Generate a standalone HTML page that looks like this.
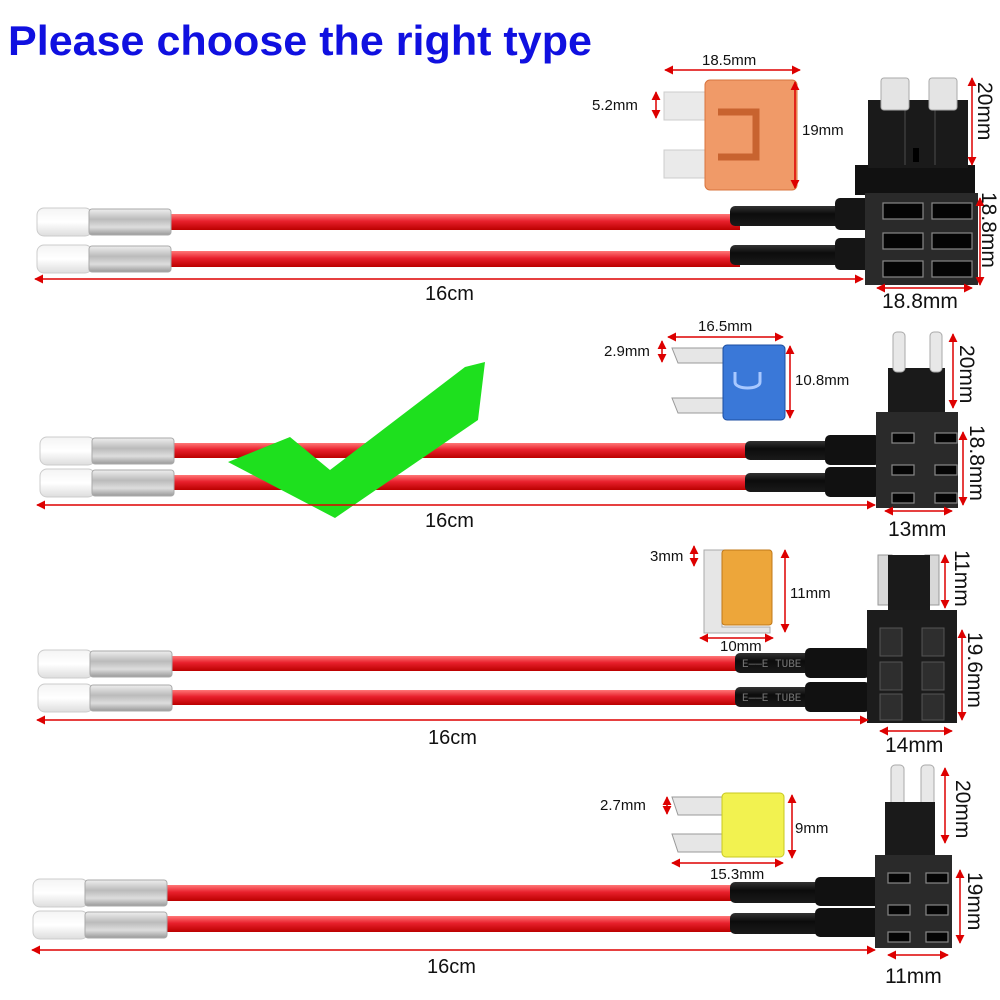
<!DOCTYPE html>
<html><head><meta charset="utf-8"><style>
html,body{margin:0;padding:0;background:#fff;width:1000px;height:1000px;overflow:hidden}
svg{display:block}
.t{font-family:"Liberation Sans",sans-serif;fill:#111}
</style></head><body>
<svg width="1000" height="1000" viewBox="0 0 1000 1000" xmlns="http://www.w3.org/2000/svg">
<defs>
<marker id="a" viewBox="0 0 10 10" refX="9" refY="5" markerWidth="6" markerHeight="6" orient="auto-start-reverse"><path d="M0,0L10,5L0,10z" fill="#d00"/></marker>
<linearGradient id="w" x1="0" y1="0" x2="0" y2="1"><stop offset="0" stop-color="#f77"/><stop offset=".45" stop-color="#e8202c"/><stop offset="1" stop-color="#b00"/></linearGradient>
<linearGradient id="m" x1="0" y1="0" x2="0" y2="1"><stop offset="0" stop-color="#eee"/><stop offset=".4" stop-color="#bbb"/><stop offset=".7" stop-color="#ddd"/><stop offset="1" stop-color="#999"/></linearGradient>
<linearGradient id="c" x1="0" y1="0" x2="0" y2="1"><stop offset="0" stop-color="#f4f4f4"/><stop offset=".5" stop-color="#fff"/><stop offset="1" stop-color="#ddd"/></linearGradient>
<linearGradient id="k" x1="0" y1="0" x2="0" y2="1"><stop offset="0" stop-color="#333"/><stop offset=".4" stop-color="#0c0c0c"/><stop offset="1" stop-color="#1a1a1a"/></linearGradient>
<g id="term"><rect x="0" y="0" width="55" height="28" rx="7" fill="url(#c)" stroke="#ccc"/><rect x="52" y="1" width="82" height="26" rx="3" fill="url(#m)" stroke="#aaa"/></g>
</defs>
<text x="8" y="55" font-family="Liberation Sans,sans-serif" font-weight="bold" font-size="42" fill="#1010e0" textLength="584" lengthAdjust="spacingAndGlyphs">Please choose the right type</text>

<!-- Section 1 -->
<g>
<rect x="165" y="214" width="575" height="16" fill="url(#w)"/>
<rect x="165" y="251" width="575" height="16" fill="url(#w)"/>
<use href="#term" x="37" y="208"/><use href="#term" x="37" y="245"/>
<rect x="730" y="206" width="110" height="20" rx="5" fill="url(#k)"/>
<rect x="730" y="245" width="110" height="20" rx="5" fill="url(#k)"/>
<rect x="835" y="198" width="40" height="32" rx="5" fill="#151515"/>
<rect x="835" y="238" width="40" height="32" rx="5" fill="#151515"/>
<rect x="855" y="165" width="120" height="30" fill="#111"/>
<rect x="865" y="193" width="113" height="92" fill="#2a2a2a"/>
<rect x="868" y="100" width="100" height="68" fill="#1a1a1a"/>
<line x1="905" y1="105" x2="905" y2="165" stroke="#333" stroke-width="2"/><line x1="935" y1="105" x2="935" y2="165" stroke="#333" stroke-width="2"/>
<rect x="913" y="148" width="6" height="14" fill="#000"/>
<rect x="881" y="78" width="28" height="32" rx="3" fill="#e4e4e4" stroke="#aaa"/><rect x="929" y="78" width="28" height="32" rx="3" fill="#e4e4e4" stroke="#aaa"/>
<g fill="#050505" stroke="#888" stroke-width="1.2"><rect x="883" y="203" width="40" height="16"/><rect x="932" y="203" width="40" height="16"/><rect x="883" y="233" width="40" height="16"/><rect x="932" y="233" width="40" height="16"/><rect x="883" y="261" width="40" height="16"/><rect x="932" y="261" width="40" height="16"/></g>
<rect x="664" y="92" width="46" height="28" fill="#eaeaea" stroke="#ccc"/><rect x="664" y="150" width="46" height="28" fill="#eaeaea" stroke="#ccc"/>
<rect x="705" y="80" width="92" height="110" rx="5" fill="#f09a68" stroke="#d8743e"/>
<path d="M718,112h38v45h-38" fill="none" stroke="#c8632f" stroke-width="7"/>
</g>
<g stroke="#d00" stroke-width="1.5" fill="none">
<line x1="665" y1="70" x2="800" y2="70" marker-start="url(#a)" marker-end="url(#a)"/>
<line x1="656" y1="92" x2="656" y2="118" marker-start="url(#a)" marker-end="url(#a)"/>
<line x1="795" y1="82" x2="795" y2="188" marker-start="url(#a)" marker-end="url(#a)"/>
<line x1="972" y1="78" x2="972" y2="165" marker-start="url(#a)" marker-end="url(#a)"/>
<line x1="980" y1="198" x2="980" y2="285" marker-start="url(#a)" marker-end="url(#a)"/>
<line x1="877" y1="288" x2="972" y2="288" marker-start="url(#a)" marker-end="url(#a)"/>
<line x1="35" y1="279" x2="863" y2="279" marker-start="url(#a)" marker-end="url(#a)"/>
</g>
<g class="t" font-size="15">
<text x="702" y="65">18.5mm</text><text x="592" y="110">5.2mm</text><text x="802" y="135">19mm</text>
<text x="882" y="308" font-size="21">18.8mm</text><text x="425" y="300" font-size="20">16cm</text>
<text transform="translate(978,82) rotate(90)" font-size="21">20mm</text>
<text transform="translate(982,192) rotate(90)" font-size="21">18.8mm</text>
</g>

<!-- Section 2 -->
<g>
<rect x="168" y="443" width="580" height="15" fill="url(#w)"/>
<rect x="168" y="475" width="580" height="15" fill="url(#w)"/>
<use href="#term" x="40" y="437"/><use href="#term" x="40" y="469"/>
<rect x="745" y="441" width="90" height="19" rx="5" fill="url(#k)"/>
<rect x="745" y="473" width="90" height="19" rx="5" fill="url(#k)"/>
<rect x="825" y="435" width="55" height="30" rx="5" fill="#111"/>
<rect x="825" y="467" width="55" height="30" rx="5" fill="#111"/>
<rect x="888" y="368" width="57" height="50" fill="#1a1a1a"/>
<rect x="893" y="332" width="12" height="40" rx="4" fill="#e8e8e8" stroke="#aaa"/><rect x="930" y="332" width="12" height="40" rx="4" fill="#e8e8e8" stroke="#aaa"/>
<rect x="876" y="412" width="82" height="96" fill="#2a2a2a"/>
<g fill="#050505" stroke="#888" stroke-width="1.2"><rect x="892" y="433" width="22" height="10"/><rect x="935" y="433" width="22" height="10"/><rect x="892" y="465" width="22" height="10"/><rect x="935" y="465" width="22" height="10"/><rect x="892" y="493" width="22" height="10"/><rect x="935" y="493" width="22" height="10"/></g>
<path d="M672,348h52v15h-46z M672,398h52v15h-46z" fill="#e6e6e6" stroke="#999"/>
<rect x="723" y="345" width="62" height="75" rx="4" fill="#3a78d8" stroke="#1c4ea0"/>
<path d="M735,372v10c0,8 25,8 25,0v-10" fill="none" stroke="#a8c8ff" stroke-width="3"/>
</g>
<polygon points="228,462 290,437 330,470 465,367 485,362 478,420 335,518" fill="#1ee01e"/>
<g stroke="#d00" stroke-width="1.5" fill="none">
<line x1="668" y1="337" x2="783" y2="337" marker-start="url(#a)" marker-end="url(#a)"/>
<line x1="662" y1="341" x2="662" y2="362" marker-start="url(#a)" marker-end="url(#a)"/>
<line x1="790" y1="346" x2="790" y2="418" marker-start="url(#a)" marker-end="url(#a)"/>
<line x1="953" y1="334" x2="953" y2="408" marker-start="url(#a)" marker-end="url(#a)"/>
<line x1="963" y1="432" x2="963" y2="505" marker-start="url(#a)" marker-end="url(#a)"/>
<line x1="885" y1="511" x2="952" y2="511" marker-start="url(#a)" marker-end="url(#a)"/>
<line x1="37" y1="505" x2="875" y2="505" marker-start="url(#a)" marker-end="url(#a)"/>
</g>
<g class="t" font-size="15">
<text x="698" y="331">16.5mm</text><text x="604" y="356">2.9mm</text><text x="795" y="385">10.8mm</text>
<text x="888" y="536" font-size="21">13mm</text><text x="425" y="527" font-size="20">16cm</text>
<text transform="translate(960,345) rotate(90)" font-size="21">20mm</text>
<text transform="translate(970,425) rotate(90)" font-size="21">18.8mm</text>
</g>

<!-- Section 3 -->
<g>
<rect x="163" y="656" width="580" height="15" fill="url(#w)"/>
<rect x="163" y="690" width="580" height="15" fill="url(#w)"/>
<use href="#term" x="38" y="650"/><use href="#term" x="38" y="684"/>
<rect x="735" y="653" width="80" height="20" rx="5" fill="url(#k)"/>
<rect x="735" y="687" width="80" height="20" rx="5" fill="url(#k)"/>
<rect x="805" y="648" width="65" height="30" rx="5" fill="#111"/>
<rect x="805" y="682" width="65" height="30" rx="5" fill="#111"/>
<g font-family="Liberation Mono,monospace" font-size="11" fill="#777"><text x="742" y="667">E——E  TUBE</text><text x="742" y="701">E——E  TUBE</text></g>
<rect x="878" y="555" width="14" height="50" fill="#d8d8d8" stroke="#999"/><rect x="925" y="555" width="14" height="50" fill="#d8d8d8" stroke="#999"/>
<rect x="888" y="555" width="42" height="58" fill="#1a1a1a"/>
<rect x="867" y="610" width="90" height="113" fill="#1c1c1c"/>
<g fill="#2e2e2e" stroke="#555"><rect x="880" y="628" width="22" height="28"/><rect x="922" y="628" width="22" height="28"/><rect x="880" y="662" width="22" height="28"/><rect x="922" y="662" width="22" height="28"/><rect x="880" y="694" width="22" height="26"/><rect x="922" y="694" width="22" height="26"/></g>
<path d="M704,550h66v22h-48v55h48v6h-66z" fill="#e6e6e6" stroke="#aaa"/>
<rect x="722" y="550" width="50" height="75" rx="3" fill="#eda63a" stroke="#c07818"/>
</g>
<g stroke="#d00" stroke-width="1.5" fill="none">
<line x1="694" y1="546" x2="694" y2="566" marker-start="url(#a)" marker-end="url(#a)"/>
<line x1="785" y1="550" x2="785" y2="632" marker-start="url(#a)" marker-end="url(#a)"/>
<line x1="700" y1="638" x2="773" y2="638" marker-start="url(#a)" marker-end="url(#a)"/>
<line x1="945" y1="555" x2="945" y2="608" marker-start="url(#a)" marker-end="url(#a)"/>
<line x1="962" y1="630" x2="962" y2="720" marker-start="url(#a)" marker-end="url(#a)"/>
<line x1="880" y1="731" x2="952" y2="731" marker-start="url(#a)" marker-end="url(#a)"/>
<line x1="37" y1="720" x2="868" y2="720" marker-start="url(#a)" marker-end="url(#a)"/>
</g>
<g class="t" font-size="15">
<text x="650" y="561">3mm</text><text x="790" y="598">11mm</text><text x="720" y="651">10mm</text>
<text x="885" y="752" font-size="21">14mm</text><text x="428" y="744" font-size="20">16cm</text>
<text transform="translate(955,550) rotate(90)" font-size="21">11mm</text>
<text transform="translate(968,632) rotate(90)" font-size="21">19.6mm</text>
</g>

<!-- Section 4 -->
<g>
<rect x="158" y="885" width="580" height="16" fill="url(#w)"/>
<rect x="158" y="916" width="580" height="16" fill="url(#w)"/>
<use href="#term" x="33" y="879"/><use href="#term" x="33" y="911"/>
<rect x="730" y="882" width="90" height="21" rx="5" fill="url(#k)"/>
<rect x="730" y="913" width="90" height="21" rx="5" fill="url(#k)"/>
<rect x="815" y="877" width="65" height="29" rx="5" fill="#111"/>
<rect x="815" y="908" width="65" height="29" rx="5" fill="#111"/>
<rect x="891" y="765" width="13" height="42" rx="4" fill="#e8e8e8" stroke="#aaa"/><rect x="921" y="765" width="13" height="42" rx="4" fill="#e8e8e8" stroke="#aaa"/>
<rect x="885" y="802" width="50" height="56" fill="#1a1a1a"/>
<rect x="875" y="855" width="77" height="93" fill="#2a2a2a"/>
<g fill="#050505" stroke="#888" stroke-width="1.2"><rect x="888" y="873" width="22" height="10"/><rect x="926" y="873" width="22" height="10"/><rect x="888" y="905" width="22" height="10"/><rect x="926" y="905" width="22" height="10"/><rect x="888" y="932" width="22" height="10"/><rect x="926" y="932" width="22" height="10"/></g>
<path d="M672,797h52v18h-46z M672,834h52v18h-46z" fill="#e6e6e6" stroke="#999"/>
<rect x="722" y="793" width="62" height="64" rx="4" fill="#f2f250" stroke="#c8c820"/>
</g>
<g stroke="#d00" stroke-width="1.5" fill="none">
<line x1="667" y1="797" x2="667" y2="814" marker-start="url(#a)" marker-end="url(#a)"/>
<line x1="792" y1="795" x2="792" y2="858" marker-start="url(#a)" marker-end="url(#a)"/>
<line x1="672" y1="863" x2="783" y2="863" marker-start="url(#a)" marker-end="url(#a)"/>
<line x1="945" y1="768" x2="945" y2="843" marker-start="url(#a)" marker-end="url(#a)"/>
<line x1="960" y1="870" x2="960" y2="943" marker-start="url(#a)" marker-end="url(#a)"/>
<line x1="888" y1="955" x2="948" y2="955" marker-start="url(#a)" marker-end="url(#a)"/>
<line x1="32" y1="950" x2="875" y2="950" marker-start="url(#a)" marker-end="url(#a)"/>
</g>
<g class="t" font-size="15">
<text x="600" y="810">2.7mm</text><text x="795" y="833">9mm</text><text x="710" y="879">15.3mm</text>
<text x="885" y="983" font-size="21">11mm</text><text x="427" y="973" font-size="20">16cm</text>
<text transform="translate(956,780) rotate(90)" font-size="21">20mm</text>
<text transform="translate(968,872) rotate(90)" font-size="21">19mm</text>
</g>
</svg>
</body></html>
